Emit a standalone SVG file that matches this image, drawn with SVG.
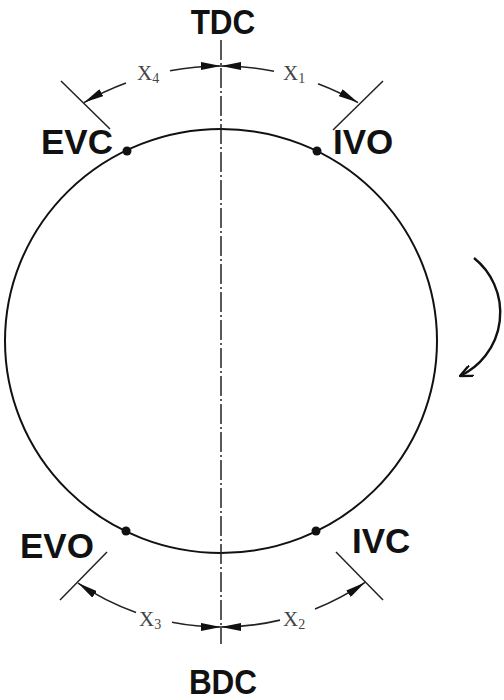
<svg xmlns="http://www.w3.org/2000/svg" width="504" height="700" viewBox="0 0 504 700">
<style>
.lbl{font-family:"Liberation Sans",Arial,sans-serif;font-weight:bold;font-size:35px;fill:#111}
.x{font-family:"Liberation Serif","Times New Roman",serif;font-size:21px;fill:#444}
.xs{font-size:14px}
.dim{fill:none;stroke:#222;stroke-width:1.6}
.tick{stroke:#222;stroke-width:1.5}
</style>
<defs>
<marker id="ah" viewBox="0 0 20 8" refX="20" refY="4" markerWidth="20" markerHeight="8" markerUnits="userSpaceOnUse" orient="auto">
<path d="M0,0 L20,4 L0,8 Z" fill="#111"/>
</marker>
<marker id="rot" viewBox="0 0 14 12" refX="13" refY="6" markerWidth="14" markerHeight="12" markerUnits="userSpaceOnUse" orient="auto">
<path d="M0,0 L13,6 L0,12" fill="none" stroke="#111" stroke-width="2.4"/>
</marker>
</defs>
<rect width="504" height="700" fill="#fff"/>
<g id="cycle">
<ellipse cx="221" cy="341" rx="216" ry="212" fill="none" stroke="#111" stroke-width="2"/>
</g>
<g id="axis">
<line x1="221" y1="40" x2="221" y2="644" stroke="#222" stroke-width="1.5" stroke-dasharray="20,3,2,3"/>
</g>
<g id="tdc"><text class="lbl" x="223" y="34" text-anchor="middle" transform="translate(223 0) scale(0.9 1) translate(-223 0)">TDC</text></g>
<g id="bdc"><text class="lbl" x="223" y="694" text-anchor="middle" transform="translate(223 0) scale(0.9 1) translate(-223 0)">BDC</text></g>
<g id="evc"><circle cx="127" cy="151" r="4.5" fill="#111"/><text class="lbl" x="41" y="154">EVC</text></g>
<g id="ivo"><circle cx="317" cy="151" r="4.5" fill="#111"/><text class="lbl" x="333" y="154">IVO</text></g>
<g id="evo"><circle cx="126" cy="531" r="4.5" fill="#111"/><text class="lbl" x="20" y="558">EVO</text></g>
<g id="ivc"><circle cx="316" cy="531" r="4.5" fill="#111"/><text class="lbl" x="352" y="553">IVC</text></g>
<g id="labels">
<text class="x" x="137" y="80">X<tspan class="xs" dy="3">4</tspan></text>
<text class="x" x="283" y="80">X<tspan class="xs" dy="3">1</tspan></text>
<text class="x" x="139" y="626">X<tspan class="xs" dy="3">3</tspan></text>
<text class="x" x="283" y="626">X<tspan class="xs" dy="3">2</tspan></text>
</g>
<g id="connectors">
<line class="tick" x1="61" y1="81" x2="110" y2="129"/>
<line class="tick" x1="333" y1="130" x2="383" y2="81"/>
<line class="tick" x1="60" y1="600" x2="107" y2="552"/>
<line class="tick" x1="336" y1="552" x2="383" y2="600"/>
<path class="dim" d="M126,83 A275,275 0 0 0 84,102.6" marker-end="url(#ah)"/>
<path class="dim" d="M170,70.7 A275,275 0 0 1 221,66" marker-end="url(#ah)"/>
<path class="dim" d="M274,71.2 A275,275 0 0 0 221,66" marker-end="url(#ah)"/>
<path class="dim" d="M318,83.7 A275,275 0 0 1 358,102.6" marker-end="url(#ah)"/>
<path class="dim" d="M136,612.4 A255,255 0 0 1 78,583.1" marker-end="url(#ah)"/>
<path class="dim" d="M172,622.2 A255,255 0 0 0 221,627" marker-end="url(#ah)"/>
<path class="dim" d="M280,620.1 A255,255 0 0 1 221,627" marker-end="url(#ah)"/>
<path class="dim" d="M315,609 A255,255 0 0 0 365,582.4" marker-end="url(#ah)"/>
<path d="M474,258 A70,70 0 0 1 460,376" fill="none" stroke="#111" stroke-width="2.4" marker-end="url(#rot)"/>
</g>
</svg>
